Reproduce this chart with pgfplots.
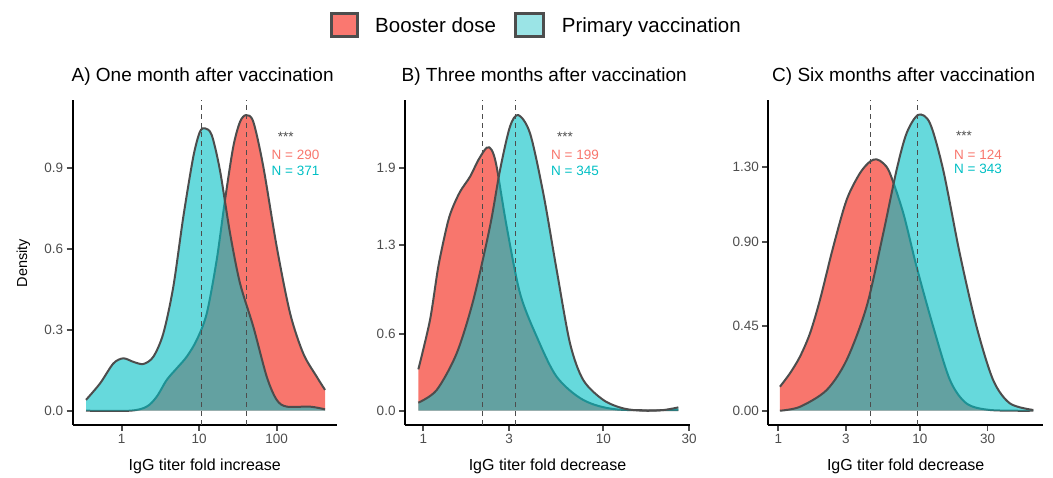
\documentclass[border=0pt]{standalone}
\usepackage{pgfplots}
\pgfplotsset{compat=1.18}
\usepackage{fontspec}
\setmainfont{Liberation Sans}
\definecolor{boost}{HTML}{F8766D}
\definecolor{prim}{HTML}{00BFC4}
\definecolor{gline}{HTML}{4D4D4D}
\definecolor{primlight}{HTML}{9BE4E6}
\definecolor{boostlight}{HTML}{FA7870}
\pgfplotsset{
  every axis/.append style={
    scale only axis, height=325pt, axis lines*=left, clip=false,
    axis line style={line width=2.2pt, black},
    tick align=outside, major tick length=6pt,
    tick style={line width=1.8pt, gline},
    tick label style={font=\fontsize{13.5}{15}\selectfont, text=gline},
  },
}
\tikzset{
  mycurve/.style={draw=gline, line width=2pt, smooth},
  myred/.style={fill=boost, draw=none, smooth},
  mycyan/.style={fill=prim, fill opacity=0.6, draw=none, smooth},
  mymed/.style={draw=gline, line width=1pt, dash pattern=on 5pt off 4pt},
}
\newcommand{\ann}[1]{\fontsize{13.5}{15}\selectfont #1}
\begin{document}
\begin{tikzpicture}
\useasboundingbox (0pt,0pt) rectangle (1053pt,477pt);

% ---------------- Panel A ----------------
\begin{axis}[xmode=log, at={(72.7pt,52pt)}, anchor=south west, width=264pt,
  xmin=0.233, xmax=594, ymin=-0.053, ymax=1.151,
  xtick={1,10,100}, xticklabels={1,10,100}, minor xtick={}, xminorticks=false,
  ytick={0,0.3,0.6,0.9}, yticklabels={0.0,0.3,0.6,0.9}]
\addplot[myred, no marks] coordinates {(0.346,0)(1.28,0)(2.10,0.015)(2.83,0.052)(3.81,0.114)(5.13,0.157)(6.90,0.2)(9.29,0.262)(12.5,0.36)(16.8,0.558)(21.5,0.78)(27.5,0.978)(33.6,1.07)(40.2,1.095)(49.9,1.07)(67.1,0.904)(100,0.607)(149,0.36)(220,0.212)(328,0.126)(420,0.077)} \closedcycle;
\addplot[mycurve, no marks] coordinates {(0.346,0)(1.28,0)(2.10,0.015)(2.83,0.052)(3.81,0.114)(5.13,0.157)(6.90,0.2)(9.29,0.262)(12.5,0.36)(16.8,0.558)(21.5,0.78)(27.5,0.978)(33.6,1.07)(40.2,1.095)(49.9,1.07)(67.1,0.904)(100,0.607)(149,0.36)(220,0.212)(328,0.126)(420,0.077)};
\addplot[mycyan, no marks] coordinates {(0.346,0.040)(0.525,0.101)(0.78,0.175)(1.05,0.194)(1.41,0.181)(1.90,0.173)(2.56,0.2)(3.44,0.286)(4.63,0.459)(6.24,0.719)(8.39,0.941)(10.2,1.033)(11.9,1.046)(14.5,1.021)(18.5,0.891)(25.0,0.657)(33.6,0.472)(49.9,0.311)(74.3,0.126)(100,0.04)(135,0.015)(269,0.015)(420,0.005)} \closedcycle;
\addplot[mycurve, no marks] coordinates {(0.346,0.040)(0.525,0.101)(0.78,0.175)(1.05,0.194)(1.41,0.181)(1.90,0.173)(2.56,0.2)(3.44,0.286)(4.63,0.459)(6.24,0.719)(8.39,0.941)(10.2,1.033)(11.9,1.046)(14.5,1.021)(18.5,0.891)(25.0,0.657)(33.6,0.472)(49.9,0.311)(74.3,0.126)(100,0.04)(135,0.015)(269,0.015)(420,0.005)};
\addplot[mymed, no marks] coordinates {(10.6,-0.053)(10.6,1.151)};
\addplot[mymed, no marks] coordinates {(40.2,-0.053)(40.2,1.151)};
\end{axis}

% ---------------- Panel B ----------------
\begin{axis}[xmode=log, at={(405pt,52pt)}, anchor=south west, width=285pt,
  xmin=0.791, xmax=30.3, ymin=-0.112, ymax=2.435,
  xtick={1,3,10,30}, xticklabels={1,3,10,30}, minor xtick={}, xminorticks=false,
  ytick={0,0.6,1.3,1.9}, yticklabels={0.0,0.6,1.3,1.9}]
\addplot[myred, no marks] coordinates {(0.938,0.324)(1.089,0.711)(1.211,1.129)(1.349,1.442)(1.437,1.573)(1.599,1.716)(1.817,1.834)(2.02,1.964)(2.248,2.061)(2.399,2.043)(2.554,1.912)(2.904,1.442)(3.444,0.92)(4.265,0.58)(5.505,0.266)(7.74,0.084)(11.86,0.01)(26.1,0.005)} \closedcycle;
\addplot[mycurve, no marks] coordinates {(0.938,0.324)(1.089,0.711)(1.211,1.129)(1.349,1.442)(1.437,1.573)(1.599,1.716)(1.817,1.834)(2.02,1.964)(2.248,2.061)(2.399,2.043)(2.554,1.912)(2.904,1.442)(3.444,0.92)(4.265,0.58)(5.505,0.266)(7.74,0.084)(11.86,0.01)(26.1,0.005)};
\addplot[mycyan, no marks] coordinates {(0.938,0.063)(1.186,0.162)(1.531,0.449)(1.896,0.867)(2.344,1.442)(2.667,1.886)(3.029,2.226)(3.372,2.317)(3.917,2.173)(4.64,1.703)(5.505,1.102)(6.53,0.528)(7.74,0.24)(10.0,0.084)(12.9,0.018)(16.7,0.0)(21.5,0.005)(26.1,0.026)} \closedcycle;
\addplot[mycurve, no marks] coordinates {(0.938,0.063)(1.186,0.162)(1.531,0.449)(1.896,0.867)(2.344,1.442)(2.667,1.886)(3.029,2.226)(3.372,2.317)(3.917,2.173)(4.64,1.703)(5.505,1.102)(6.53,0.528)(7.74,0.24)(10.0,0.084)(12.9,0.018)(16.7,0.0)(21.5,0.005)(26.1,0.026)};
\addplot[mymed, no marks] coordinates {(2.136,-0.112)(2.136,2.435)};
\addplot[mymed, no marks] coordinates {(3.27,-0.112)(3.27,2.435)};
\end{axis}

% ---------------- Panel C ----------------
\begin{axis}[xmode=log, at={(768.3pt,52pt)}, anchor=south west, width=275pt,
  xmin=0.85, xmax=74.3, ymin=-0.076, ymax=1.655,
  xtick={1,3,10,30}, xticklabels={1,3,10,30}, minor xtick={}, xminorticks=false,
  ytick={0,0.45,0.9,1.3}, yticklabels={0.00,0.45,0.90,1.30}]
\addplot[myred, no marks] coordinates {(1.027,0.128)(1.208,0.199)(1.422,0.288)(1.674,0.412)(1.968,0.59)(2.445,0.874)(3.036,1.123)(3.77,1.265)(4.436,1.327)(4.943,1.339)(5.508,1.318)(6.138,1.265)(7.63,1.052)(9.47,0.767)(12.4,0.448)(16.3,0.163)(21.3,0.039)(31.2,0.004)(63.1,0)} \closedcycle;
\addplot[mycurve, no marks] coordinates {(1.027,0.128)(1.208,0.199)(1.422,0.288)(1.674,0.412)(1.968,0.59)(2.445,0.874)(3.036,1.123)(3.77,1.265)(4.436,1.327)(4.943,1.339)(5.508,1.318)(6.138,1.265)(7.63,1.052)(9.47,0.767)(12.4,0.448)(16.3,0.163)(21.3,0.039)(31.2,0.004)(63.1,0)};
\addplot[mycyan, no marks] coordinates {(1.027,0)(1.422,0.021)(2.194,0.11)(3.036,0.27)(4.2,0.554)(5.508,0.945)(6.84,1.282)(8.05,1.478)(9.73,1.576)(11.77,1.531)(14.6,1.282)(19.1,0.838)(25.1,0.448)(32.9,0.163)(43.2,0.039)(63.1,0.004)} \closedcycle;
\addplot[mycurve, no marks] coordinates {(1.027,0)(1.422,0.021)(2.194,0.11)(3.036,0.27)(4.2,0.554)(5.508,0.945)(6.84,1.282)(8.05,1.478)(9.73,1.576)(11.77,1.531)(14.6,1.282)(19.1,0.838)(25.1,0.448)(32.9,0.163)(43.2,0.039)(63.1,0.004)};
\addplot[mymed, no marks] coordinates {(4.51,-0.076)(4.51,1.655)};
\addplot[mymed, no marks] coordinates {(9.57,-0.076)(9.57,1.655)};
\end{axis}

% ---------------- titles, labels, annotations ----------------
\begin{scope}[every node/.style={inner sep=0pt}]
\node[anchor=base west, font=\fontsize{19}{22}\selectfont] at (71.5pt,395pt) {A) One month after vaccination};
\node[anchor=base west, font=\fontsize{19}{22}\selectfont] at (401.5pt,395pt) {B) Three months after vaccination};
\node[anchor=base west, font=\fontsize{19}{22}\selectfont] at (772pt,395pt) {C) Six months after vaccination};
\node[anchor=base, font=\fontsize{16}{18}\selectfont] at (204.7pt,6.3pt) {IgG titer fold increase};
\node[anchor=base, font=\fontsize{16}{18}\selectfont] at (547.5pt,6.3pt) {IgG titer fold decrease};
\node[anchor=base, font=\fontsize{16}{18}\selectfont] at (905.7pt,6.3pt) {IgG titer fold decrease};
\node[rotate=90, font=\fontsize{14.5}{16}\selectfont] at (23.3pt,214pt) {Density};
% annotations
\node[text=gline] at (285.8pt,340pt) {\ann{***}};
\node[text=boost] at (295.5pt,322pt) {\ann{N = 290}};
\node[text=prim] at (295.5pt,306pt) {\ann{N = 371}};
\node[text=gline] at (565pt,340pt) {\ann{***}};
\node[text=boost] at (575pt,322pt) {\ann{N = 199}};
\node[text=prim] at (575pt,306pt) {\ann{N = 345}};
\node[text=gline] at (964pt,341.5pt) {\ann{***}};
\node[text=boost] at (978pt,322.3pt) {\ann{N = 124}};
\node[text=prim] at (978pt,307.7pt) {\ann{N = 343}};
% legend
\filldraw[fill=boostlight, draw=gline, line width=3pt] (331.5pt,440.2pt) rectangle (357.5pt,463.8pt);
\filldraw[fill=primlight, draw=gline, line width=3pt] (515.5pt,440.2pt) rectangle (543.2pt,463.8pt);
\node[anchor=base west, font=\fontsize{20.5}{23}\selectfont] at (375pt,444pt) {Booster dose};
\node[anchor=base west, font=\fontsize{20.5}{23}\selectfont] at (561.7pt,444pt) {Primary vaccination};
\end{scope}
\end{tikzpicture}
\end{document}
